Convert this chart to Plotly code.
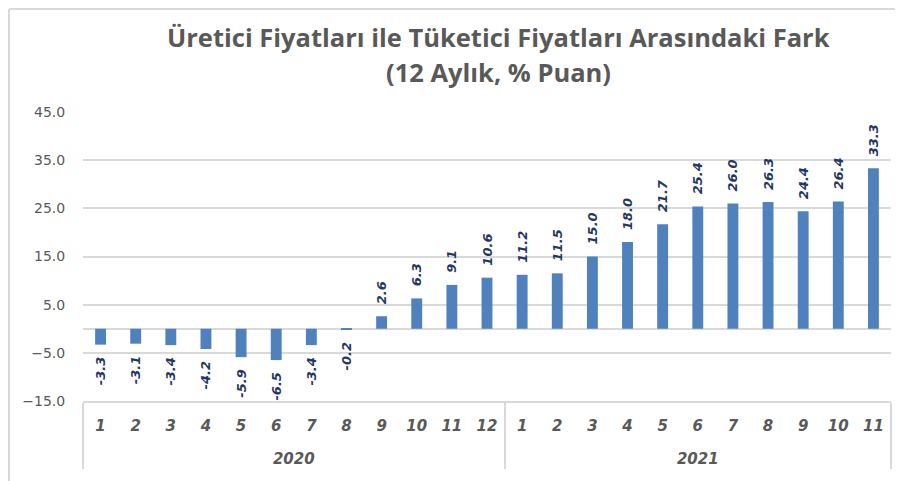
import plotly.graph_objects as go

years = ["2020"] * 12 + ["2021"] * 11
months = [str(m) for m in range(1, 13)] + [str(m) for m in range(1, 12)]
values = [-3.3, -3.1, -3.4, -4.2, -5.9, -6.5, -3.4, -0.2, 2.6, 6.3, 9.1, 10.6,
          11.2, 11.5, 15.0, 18.0, 21.7, 25.4, 26.0, 26.3, 24.4, 26.4, 33.3]
title_line1 = "Üretici Fiyatları ile Tüketici Fiyatları Arasındaki Fark"
title_line2 = "(12 Aylık, % Puan)"

# page body has an 8px margin; work in screen coordinates and convert
OFF = 8
W, H = 903 - OFF, 481 - OFF
PL, PR, PT, PB = 83, 891, 112, 401          # plot area in screen px
ML, MR, MT, MB = PL - OFF, 903 - PR, PT - OFF, 481 - PB
PW, PH = PR - PL, PB - PT

def px_x(x):
    return (x - PL) / PW

def px_y(y):
    return (PB - y) / PH

# extra blank (taller) line under each month label to push the year row down
month_labels = [m + "<br><span style='font-size:35px'> </span>" for m in months]

# non-breaking spaces keep the value labels a little away from the bar ends
GAP = "\u00a0\u00a0"
labels = [(GAP + f"{v:.1f}") if v >= 0 else (f"{v:.1f}" + GAP) for v in values]

fig = go.Figure(go.Bar(
    x=[years, month_labels],
    y=values,
    marker=dict(color="#4F81BD", line=dict(width=0)),
    text=labels,
    textposition="outside",
    textangle=-90,
    constraintext="none",
    cliponaxis=False,
    textfont=dict(family="DejaVu Sans", size=13, color="#1F3864", weight="bold", style="italic"),
))

fig.update_layout(
    width=W, height=H,
    margin=dict(l=ML, r=MR, t=MT, b=MB, autoexpand=False),
    paper_bgcolor="white", plot_bgcolor="white",
    bargap=0.69,
    showlegend=False,
    annotations=[
        dict(text=title_line1, x=px_x(498), y=px_y(37), xref="paper", yref="paper",
             showarrow=False, xanchor="center", yanchor="middle",
             font=dict(family="Open Sans", size=25.5, color="#595959", weight="bold")),
        dict(text=title_line2, x=px_x(498), y=px_y(72), xref="paper", yref="paper",
             showarrow=False, xanchor="center", yanchor="middle",
             font=dict(family="Open Sans", size=25.5, color="#595959", weight="bold")),
    ],
    shapes=[
        dict(type="line", xref="paper", yref="paper", x0=px_x(9), x1=px_x(9),
             y0=px_y(9), y1=px_y(495), line=dict(color="#D9D9D9", width=2)),
        dict(type="line", xref="paper", yref="paper", x0=px_x(9), x1=px_x(901),
             y0=px_y(9), y1=px_y(9), line=dict(color="#D9D9D9", width=2)),
    ],
)

fig.update_yaxes(
    range=[-15, 45], tick0=-15, dtick=10, tickformat=".1f",
    showgrid=True, gridcolor="#D9D9D9", gridwidth=1.5,
    zeroline=True, zerolinecolor="#D9D9D9", zerolinewidth=1.5,
    ticks="outside", ticklen=14, tickcolor="rgba(0,0,0,0)",
    tickfont=dict(family="DejaVu Sans", size=14, color="#595959"),
    showline=False, automargin=False,
)
fig.update_xaxes(
    type="multicategory",
    showline=True, linecolor="#D9D9D9", linewidth=1.5,
    showdividers=True, dividercolor="#D9D9D9", dividerwidth=1.5,
    ticks="", ticklabelstandoff=10,
    tickfont=dict(family="DejaVu Sans", size=15, color="#595959", weight="bold", style="italic"),
    showgrid=False, automargin=False,
)

fig.write_html("out.html")
